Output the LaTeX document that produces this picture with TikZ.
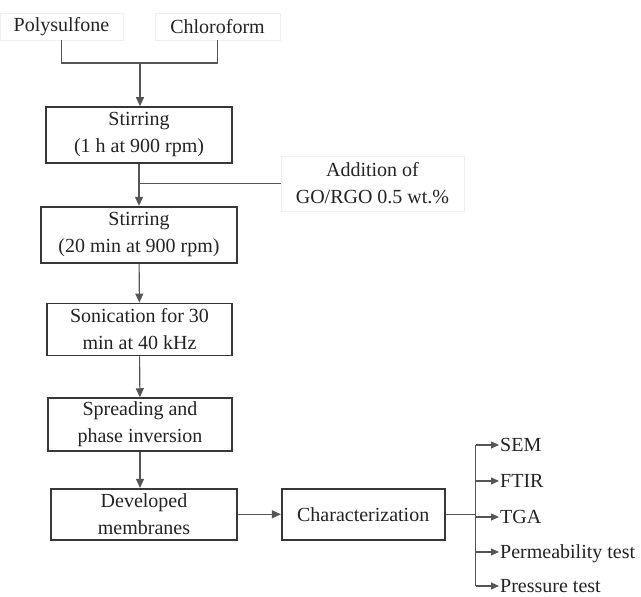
\documentclass[tikz,border=0pt]{standalone}
\usepackage{fontspec}
\setmainfont{Liberation Serif}
\usepackage{tikz}
\usetikzlibrary{positioning,arrows.meta}
\definecolor{boxline}{RGB}{55,55,55}
\definecolor{flowcolor}{RGB}{85,85,85}
\definecolor{faintline}{RGB}{238,238,238}
\definecolor{labeltext}{RGB}{35,35,35}
\tikzset{
    stepbox/.style={rectangle, draw=boxline, line width=1.7pt, align=center, inner sep=2pt, font=\fontsize{20}{27}\selectfont, text=labeltext},
    input box/.style={rectangle, draw=faintline, line width=0.8pt, align=center, inner sep=2pt, font=\fontsize{20}{27}\selectfont, text=labeltext},
    flow line/.style={line width=1.1pt, draw=flowcolor},
    flow arrow/.style={flow line, -{Triangle[length=9pt, width=8pt]}},
    test arrow/.style={flow line, -{Triangle[length=8pt, width=7pt]}, shorten >=1pt},
    test label/.style={anchor=west, inner sep=0pt, text height=13pt, text depth=0pt, font=\fontsize{20}{27}\selectfont, text=labeltext}
}
\begin{document}
\begin{tikzpicture}[x=1pt, y=-1pt, node distance=40pt]
\useasboundingbox (0,0) rectangle (641,597);
% Raw materials
\node[input box, minimum width=123pt, minimum height=27pt] (psf) at (61.5,26.5) {Polysulfone};
\node[input box, minimum width=125pt, minimum height=27pt] (chcl) at (217.5,26.5) {Chloroform};
\coordinate (mix) at (140,63);

% Preparation steps
\node[stepbox, minimum width=186pt, minimum height=56pt] (stir1) at (139,135) {Stirring\\(1 h at 900 rpm)};
\node[stepbox, minimum width=196pt, minimum height=56pt, below=42pt of stir1] (stir2) {Stirring\\(20 min at 900 rpm)};
\node[stepbox, minimum width=185pt, minimum height=52pt, below=39pt of stir2, xshift=0.5pt] (sonic) {Sonication for 30\\min at 40 kHz};
\node[stepbox, minimum width=184pt, minimum height=53pt, below=41pt of sonic, xshift=0.5pt] (spread) {Spreading and\\phase inversion};
\node[stepbox, minimum width=186pt, minimum height=51pt, below=36pt of spread, xshift=4pt] (devm) {Developed\\membranes};
\node[stepbox, minimum width=163pt, minimum height=51pt, right=43pt of devm] (char) {Characterization};
\node[input box, minimum width=183pt, minimum height=55pt] (addit) at (372.5,183.5) {Addition of\\GO/RGO 0.5 wt.\%};

% Connectors
\draw[flow line] (psf.south) -- (psf.south |- mix) -- (chcl.south |- mix) -- (chcl.south);
\draw[flow arrow] (mix) -- (mix |- stir1.north);
\draw[flow arrow] (stir1) -- (stir2);
\draw[flow line] (addit.west) -- (addit.west -| stir1.south);
\draw[flow arrow] (stir2) -- (sonic);
\draw[flow arrow] (sonic) -- (spread);
\draw[flow arrow] (spread.south) -- (spread.south |- devm.north);
\draw[flow arrow] (devm) -- (char);

% Characterization tests
\coordinate (hub) at ([xshift=30pt]char.east);
\foreach \name/\txt/\ypos in {sem/SEM/445, ftir/FTIR/481, tga/TGA/517, perm/Permeability test/552, pres/Pressure test/586}
    \node[test label] (\name) at (500,\ypos) {\txt};
\draw[flow line] (char) -- (hub);
\draw[flow line] (hub |- sem.west) -- (hub |- pres.west);
\foreach \name in {sem, ftir, tga, perm, pres}
    \draw[test arrow] (hub |- \name.west) -- (\name.west);
\end{tikzpicture}
\end{document}
